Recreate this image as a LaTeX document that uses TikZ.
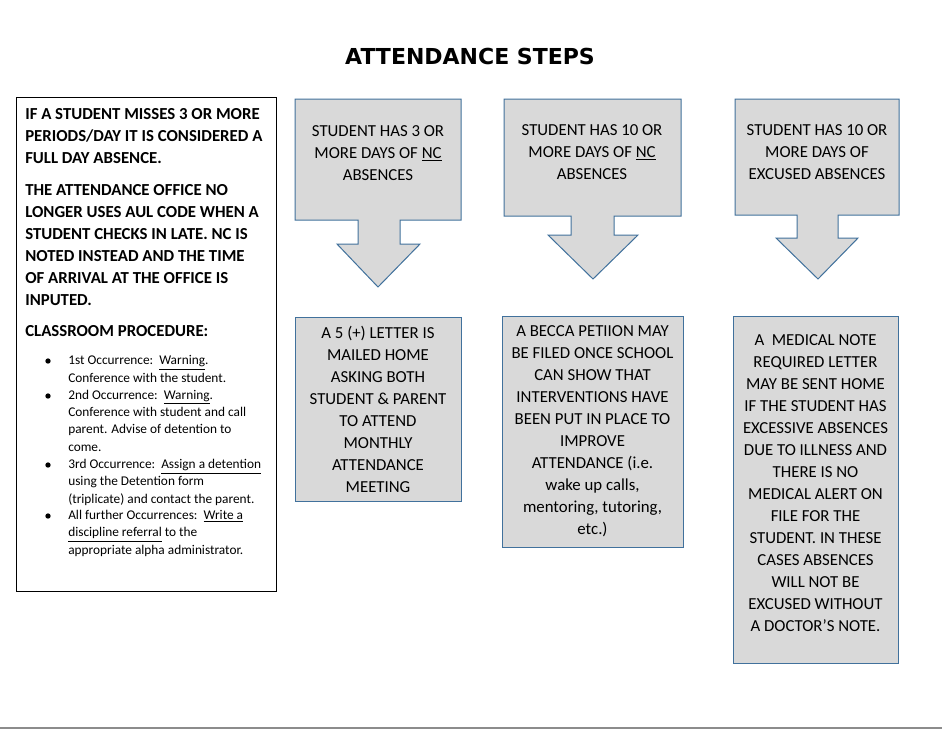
\documentclass[tikz,border=0pt]{standalone}
\usepackage{fontspec}
\setmainfont{Carlito}
\newfontfamily\headfont{DejaVu Sans}
\usetikzlibrary{positioning}

\definecolor{stepfill}{HTML}{D9D9D9}
\definecolor{stepline}{HTML}{41719C}
\definecolor{footline}{HTML}{8C8C8C}

\begin{document}
\begin{tikzpicture}[x=0.75pt, y=-0.75pt,
  callout/.style={fill=stepfill, draw=stepline, line width=0.75pt, line join=miter},
  stepbox/.style={rectangle, fill=stepfill, draw=stepline, line width=0.75pt, inner sep=0pt},
  steptext/.style={align=center, inner sep=0pt, font=\fontsize{12.6}{16.5}\selectfont},
  notetext/.style={align=left, anchor=base west, inner sep=0pt, font=\fontsize{12.6}{16.5}\selectfont\bfseries},
  ruletext/.style={align=left, anchor=base west, inner sep=0pt, font=\fontsize{10}{12.9}\selectfont},
  dot/.style={circle, fill=black, inner sep=0pt, minimum size=4pt}]

\useasboundingbox (0,0) rectangle (942,729);

% title
\node[font=\headfont\bfseries\fontsize{16.5}{18}\selectfont] (title) at (470,56) {ATTENDANCE STEPS};

% left notes (multi-line nodes sit on the baseline of their last line)
\node[rectangle, draw=black, line width=0.75pt, minimum width=195pt, minimum height=370.5pt] (notes) at (146,344) {};
\node[notetext] (rule1) at (25,163) {IF A STUDENT MISSES 3 OR MORE\\PERIODS/DAY IT IS CONSIDERED A\\FULL DAY ABSENCE.};
\node[notetext] (rule2) at (25,305) {THE ATTENDANCE OFFICE NO\\LONGER USES AUL CODE WHEN A\\STUDENT CHECKS IN LATE. NC IS\\NOTED INSTEAD AND THE TIME\\OF ARRIVAL AT THE OFFICE IS\\INPUTED.};
\node[notetext] (proc) at (25,336) {CLASSROOM PROCEDURE:};

\node[dot] (b1) at (48,361) {};
\node[ruletext] (occ1) at (68,382) {1st Occurrence:\ \ \underline{Warning}.\\Conference with the student.};
\node[dot] (b2) at (48,396) {};
\node[ruletext] (occ2) at (68,451) {2nd Occurrence:\ \ \underline{Warning}.\\Conference with student and call\\parent. Advise of detention to\\come.};
\node[dot] (b3) at (48,465) {};
\node[ruletext] (occ3) at (68,503) {3rd Occurrence:\ \ \underline{Assign a detention}\\using the Detention form\\(triplicate) and contact the parent.};
\node[dot] (b4) at (48,516) {};
\node[ruletext] (occ4) at (68,554) {All further Occurrences:\ \ \underline{Write a}\\\underline{discipline referral} to the\\appropriate alpha administrator.};

% down arrow callouts
\draw[callout] (295,99) -- (461,99) -- (461,220) -- (400,220) -- (400,244) -- (420,244)
  -- (378,287) -- (337,244) -- (358,244) -- (358,220) -- (295,220) -- cycle;
\draw[callout] (504,99) -- (681,99) -- (681,216) -- (614,216) -- (614,235) -- (638,235)
  -- (593,279) -- (548,235) -- (571,235) -- (571,216) -- (504,216) -- cycle;
\draw[callout] (735,99) -- (899,99) -- (899,215) -- (838,215) -- (838,238) -- (858,238)
  -- (818,279) -- (776,238) -- (797,238) -- (797,215) -- (735,215) -- cycle;

\node[steptext] (nc3) at (378,153) {STUDENT HAS 3 OR\\MORE DAYS OF \underline{NC}\\ABSENCES};
\node[steptext] (nc10) at (592,152) {STUDENT HAS 10 OR\\MORE DAYS OF \underline{NC}\\ABSENCES};
\node[steptext] (exc10) at (817,152) {STUDENT HAS 10 OR\\MORE DAYS OF\\EXCUSED ABSENCES};

% result boxes
\node[stepbox, minimum width=124.5pt, minimum height=138pt] (letter) at (378,409) {};
\node[steptext] (lettertext) at (letter.center) {A 5 (+) LETTER IS\\MAILED HOME\\ASKING BOTH\\STUDENT \& PARENT\\TO ATTEND\\MONTHLY\\ATTENDANCE\\MEETING};

\node[stepbox, minimum width=135.75pt, minimum height=173.25pt] (becca) at (592.5,431.5) {};
\node[steptext] (beccatext) at (becca.center) {A BECCA PETIION MAY\\BE FILED ONCE SCHOOL\\CAN SHOW THAT\\INTERVENTIONS HAVE\\BEEN PUT IN PLACE TO\\IMPROVE\\ATTENDANCE (i.e.\\wake up calls,\\mentoring, tutoring,\\etc.)};

\node[stepbox, minimum width=123.75pt, minimum height=260.25pt] (medical) at (815.5,489.5) {};
\node[steptext] (medicaltext) at ([yshift=4.9pt]medical.center) {A\ \ MEDICAL NOTE\\REQUIRED LETTER\\MAY BE SENT HOME\\IF THE STUDENT HAS\\EXCESSIVE ABSENCES\\DUE TO ILLNESS AND\\THERE IS NO\\MEDICAL ALERT ON\\FILE FOR THE\\STUDENT. IN THESE\\CASES ABSENCES\\WILL NOT BE\\EXCUSED WITHOUT\\A DOCTOR’S NOTE.};

% footer rule
\draw[footline, line width=1.1pt] (0,728) -- (942,728);

\end{tikzpicture}
\end{document}
